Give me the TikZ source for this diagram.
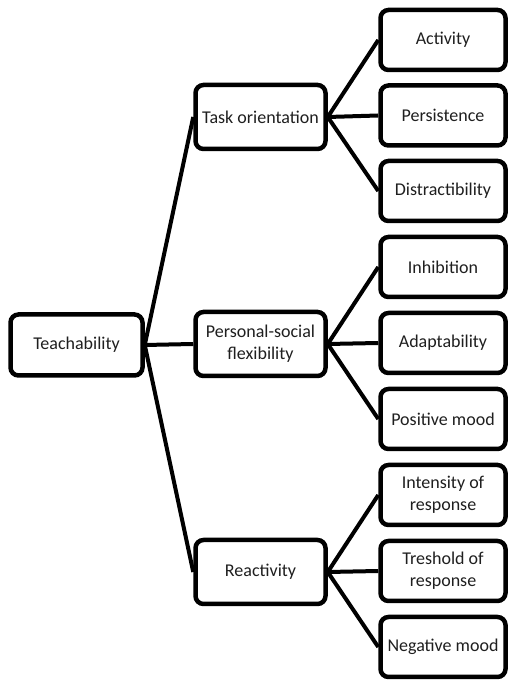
\documentclass[tikz,border=0pt]{standalone}
\usepackage{fontspec}
\setmainfont{Carlito}
\begin{document}
\begin{tikzpicture}[x=1pt,y=1pt,
  box/.style={draw=black, line width=4.5pt, rounded corners=8pt, fill=white,
    align=center, inner sep=0pt, text=black!88,
    font=\fontsize{18}{22}\selectfont},
  rootbox/.style={box, minimum width=132pt, minimum height=61pt},
  midbox/.style={box, minimum width=130pt, minimum height=64pt},
  leafbox/.style={box, minimum width=125pt, minimum height=60pt},
  conn/.style={draw=black, line width=4pt}
]
\useasboundingbox (0,0) rectangle (508,682);

\node[rootbox] (T) at (76.5,{682-345}) {Teachability};

\node[midbox] (TO) at (260.5,{682-117}) {Task orientation};
\node[midbox] (PS) at (260.5,{682-344}) {Personal-social\\flexibility};
\node[midbox] (R)  at (260.5,{682-572}) {Reactivity};

\node[leafbox] (L1) at (443,{682-40}) {Activity};
\node[leafbox] (L2) at (443,{682-115.5}) {Persistence};
\node[leafbox] (L3) at (443,{682-191}) {Distractibility};
\node[leafbox] (L4) at (443,{682-267}) {Inhibition};
\node[leafbox] (L5) at (443,{682-343}) {Adaptability};
\node[leafbox] (L6) at (443,{682-419}) {Positive mood};
\node[leafbox] (L7) at (443,{682-495}) {Intensity of\\response};
\node[leafbox] (L8) at (443,{682-571}) {Treshold of\\response};
\node[leafbox] (L9) at (443,{682-647}) {Negative mood};

\draw[conn] (T.east) -- (TO.west);
\draw[conn] (T.east) -- (PS.west);
\draw[conn] (T.east) -- (R.west);

\draw[conn] (TO.east) -- (L1.west);
\draw[conn] (TO.east) -- (L2.west);
\draw[conn] (TO.east) -- (L3.west);
\draw[conn] (PS.east) -- (L4.west);
\draw[conn] (PS.east) -- (L5.west);
\draw[conn] (PS.east) -- (L6.west);
\draw[conn] (R.east) -- (L7.west);
\draw[conn] (R.east) -- (L8.west);
\draw[conn] (R.east) -- (L9.west);
\end{tikzpicture}
\end{document}
